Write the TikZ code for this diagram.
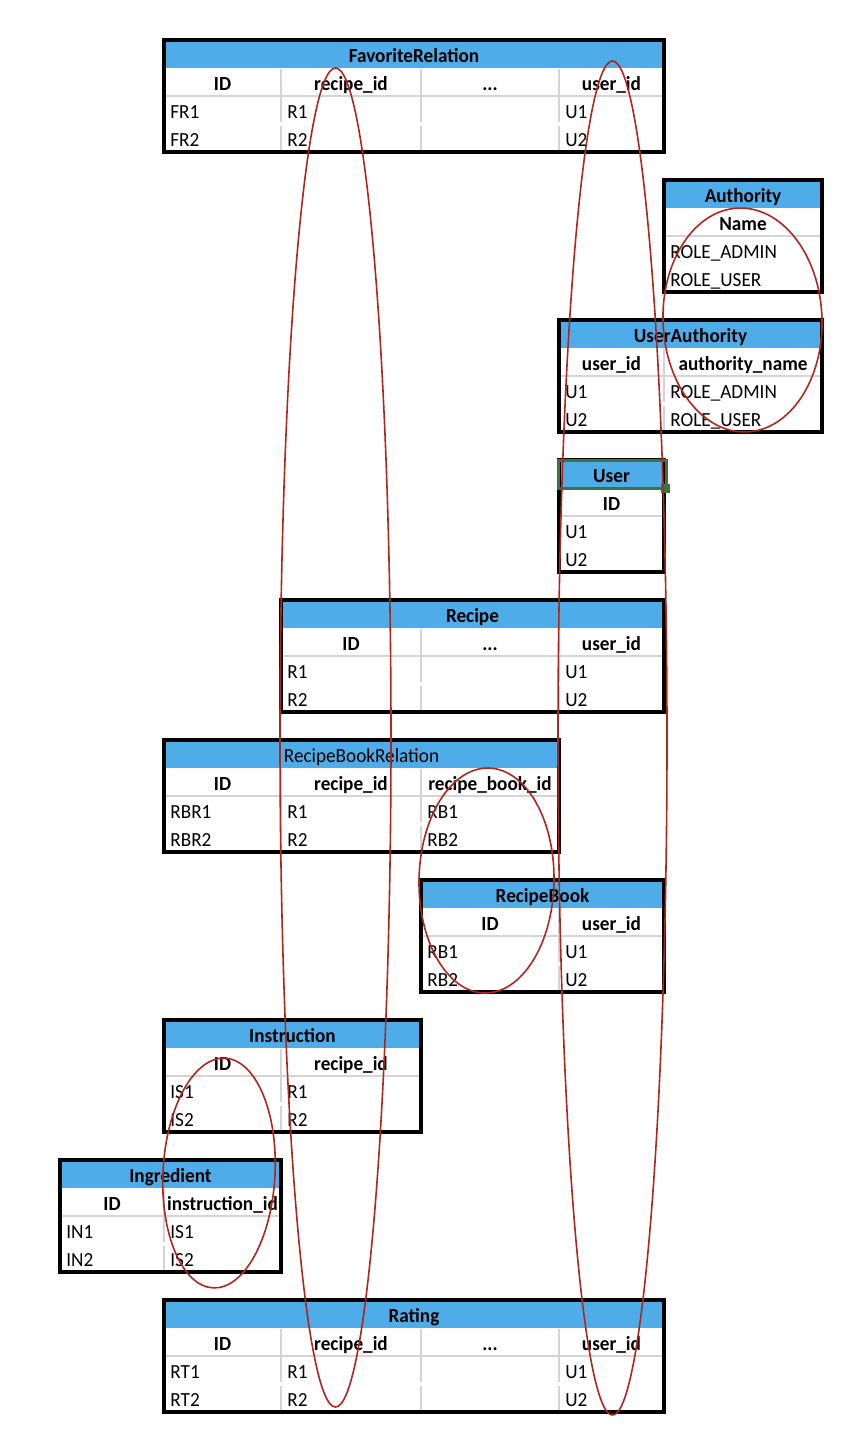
\documentclass[tikz,border=0pt]{standalone}
\usepackage{fontspec}
\setmainfont{Carlito}[FakeStretch=0.96]
\definecolor{tblue}{RGB}{78,173,232}
\definecolor{gridgray}{RGB}{212,212,212}
\definecolor{relred}{RGB}{176,38,30}
\definecolor{selgreen}{RGB}{60,115,67}

% title band of a table: name, x left, x right, y top, text
\newcommand\tbltitle[6][ttl]{%
  \fill[titlefill] (#3,#5) rectangle (#4,#5+28);
  \node[#1] (#2) at ({(#3+#4)/2},#5+22) {#6};}
% one column: name, x left, x right, y top, header, first value, second value
\newcommand\tblcol[7]{%
  \node[hdr] (#1-h) at ({(#2+#3)/2},#4+50.5) {#5};
  \node[cell] (#1-r1) at (#2+6,#4+78.5) {#6};
  \node[cell] (#1-r2) at (#2+6,#4+106.5) {#7};}
% vertical grid line between two columns: x, y top
\newcommand\tblsep[2]{%
  \draw[grid] (#1,#2+29) -- (#1,#2+82);
  \draw[grid] (#1,#2+86) -- (#1,#2+110);}
% header rule and outer frame: x left, x right, y top
\newcommand\tblframe[3]{%
  \draw[grid] (#1,#3+56) -- (#2,#3+56);
  \draw[frame] (#1,#3) rectangle (#2,#3+112);}

\begin{document}
\begin{tikzpicture}[x=0.5pt,y=-0.5pt,
  titlefill/.style={fill=tblue},
  ttl/.style={font=\bfseries\fontsize{10}{11}\selectfont,anchor=base,inner sep=0pt},
  ttlplain/.style={font=\fontsize{10}{11}\selectfont,anchor=base,inner sep=0pt},
  hdr/.style={font=\bfseries\fontsize{10}{11}\selectfont,anchor=base,inner sep=0pt},
  cell/.style={font=\fontsize{10}{11}\selectfont,anchor=base west,inner sep=0pt},
  frame/.style={draw=black,line width=2pt},
  grid/.style={draw=gridgray,line width=0.8pt},
  relmark/.style={draw=relred,line width=0.8pt},
  selection/.style={draw=selgreen,line width=1.5pt}]
\useasboundingbox (0,0) rectangle (858,1440);

% FavoriteRelation
\tbltitle{fr}{164}{664}{40}{FavoriteRelation}
\tblsep{281}{40}\tblsep{421}{40}\tblsep{559}{40}
\tblframe{164}{664}{40}
\tblcol{fr-id}{164}{281}{40}{ID}{FR1}{FR2}
\tblcol{fr-recipe}{281}{421}{40}{recipe\_id}{R1}{R2}
\tblcol{fr-more}{421}{559}{40}{...}{}{}
\tblcol{fr-user}{559}{664}{40}{user\_id}{U1}{U2}

% Authority
\tbltitle{auth}{664}{822}{180}{Authority}
\tblframe{664}{822}{180}
\tblcol{auth-name}{664}{822}{180}{Name}{ROLE\_ADMIN}{ROLE\_USER}

% UserAuthority
\tbltitle{ua}{559}{822}{320}{UserAuthority}
\tblsep{664}{320}
\tblframe{559}{822}{320}
\tblcol{ua-user}{559}{664}{320}{user\_id}{U1}{U2}
\tblcol{ua-auth}{664}{822}{320}{authority\_name}{ROLE\_ADMIN}{ROLE\_USER}

% User
\tbltitle{user}{559}{664}{460}{User}
\tblframe{559}{664}{460}
\tblcol{user-id}{559}{664}{460}{ID}{U1}{U2}
\draw[selection] (558.5,460.5) rectangle (666.5,488.5);
\fill[selgreen] (661,484) rectangle (670,493);

% Recipe
\tbltitle{recipe}{281}{664}{600}{Recipe}
\tblsep{421}{600}\tblsep{559}{600}
\tblframe{281}{664}{600}
\tblcol{recipe-id}{281}{421}{600}{ID}{R1}{R2}
\tblcol{recipe-more}{421}{559}{600}{...}{}{}
\tblcol{recipe-user}{559}{664}{600}{user\_id}{U1}{U2}

% RecipeBookRelation
\tbltitle[ttlplain]{rbr}{164}{559}{740}{RecipeBookRelation}
\tblsep{281}{740}\tblsep{421}{740}
\tblframe{164}{559}{740}
\tblcol{rbr-id}{164}{281}{740}{ID}{RBR1}{RBR2}
\tblcol{rbr-recipe}{281}{421}{740}{recipe\_id}{R1}{R2}
\tblcol{rbr-book}{421}{559}{740}{recipe\_book\_id}{RB1}{RB2}

% RecipeBook
\tbltitle{rb}{421}{664}{880}{RecipeBook}
\tblsep{559}{880}
\tblframe{421}{664}{880}
\tblcol{rb-id}{421}{559}{880}{ID}{RB1}{RB2}
\tblcol{rb-user}{559}{664}{880}{user\_id}{U1}{U2}

% Instruction
\tbltitle{is}{164}{421}{1020}{Instruction}
\tblsep{281}{1020}
\tblframe{164}{421}{1020}
\tblcol{is-id}{164}{281}{1020}{ID}{IS1}{IS2}
\tblcol{is-recipe}{281}{421}{1020}{recipe\_id}{R1}{R2}

% Ingredient
\tbltitle{in}{60}{281}{1160}{Ingredient}
\tblsep{164}{1160}
\tblframe{60}{281}{1160}
\tblcol{in-id}{60}{164}{1160}{ID}{IN1}{IN2}
\tblcol{in-is}{164}{281}{1160}{instruction\_id}{IS1}{IS2}

% Rating
\tbltitle{rt}{164}{664}{1300}{Rating}
\tblsep{281}{1300}\tblsep{421}{1300}\tblsep{559}{1300}
\tblframe{164}{664}{1300}
\tblcol{rt-id}{164}{281}{1300}{ID}{RT1}{RT2}
\tblcol{rt-recipe}{281}{421}{1300}{recipe\_id}{R1}{R2}
\tblcol{rt-more}{421}{559}{1300}{...}{}{}
\tblcol{rt-user}{559}{664}{1300}{user\_id}{U1}{U2}

% key groupings
\draw[relmark] (335.5,737.5) ellipse [x radius=55.5, y radius=669.5];
\draw[relmark] (612.5,738) ellipse [x radius=54.5, y radius=677];
\draw[relmark, rotate around={2:(742.5,320)}] (742.5,320) ellipse [x radius=79.5, y radius=112];
\draw[relmark, rotate around={-1:(486.5,880.5)}] (486.5,880.5) ellipse [x radius=67.5, y radius=112.5];
\draw[relmark, rotate around={-3:(219,1173)}] (219,1173) ellipse [x radius=56, y radius=115];
\end{tikzpicture}
\end{document}
